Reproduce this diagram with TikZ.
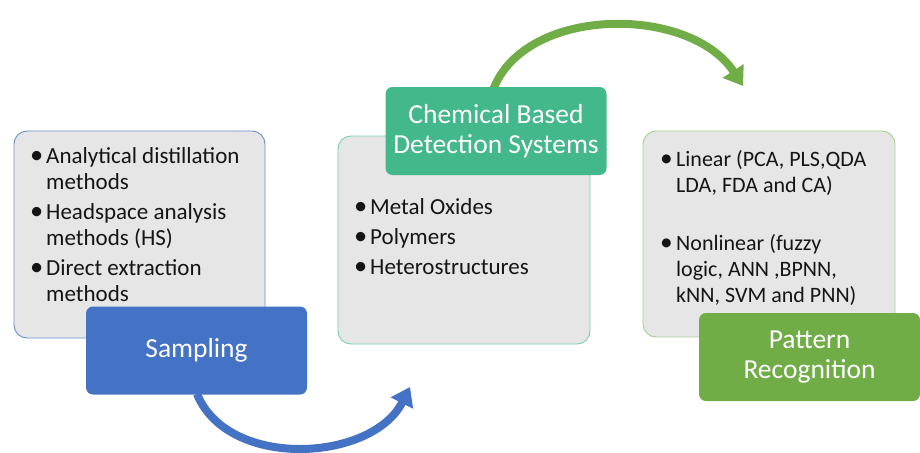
\documentclass[tikz,border=0pt]{standalone}
\usepackage{fontspec}
\usepackage{graphicx}
\setmainfont{Carlito}
\usetikzlibrary{arrows.meta}
\definecolor{cblue}{HTML}{4472C4}
\definecolor{cteal}{HTML}{43B88B}
\definecolor{cgreen}{HTML}{70AD47}
\definecolor{cgray}{HTML}{E6E6E6}
\definecolor{ctext}{HTML}{151515}
\newcommand\bl{\makebox[16pt][l]{\raisebox{-0.5pt}{\scalebox{1.15}{\textbullet}}}}
\newcommand\ind{\hspace{16pt}}
\tikzset{
  graybox/.style={draw, fill=cgray, line width=0.9pt, rounded corners=13pt, minimum width=#1, inner sep=0pt},
  headbox/.style={fill=#1, rounded corners=7pt, minimum width=221pt, minimum height=88pt, text=white, align=center, inner sep=0pt, font=\fontsize{27.5}{30.5}\selectfont},
  listtext/.style={anchor=base west, inner sep=0pt, text=ctext},
  arc/.style={line width=8pt, draw=#1, -{Triangle[length=18pt, width=24pt]}}
}
\begin{document}
\begin{tikzpicture}[x=1pt, y=-1pt]
\useasboundingbox (0,0) rectangle (920,452);
% gray boxes
\node[graybox=251pt, draw=cblue!80, minimum height=207pt] (b1) at (139.5,234.5) {};
\node[graybox=252pt, draw=cteal!70, minimum height=208pt] (b2) at (464,240) {};
\node[graybox=252pt, draw=cgreen!60, minimum height=206pt] (b3) at (769,234) {};
% connector ends
\coordinate (e1) at (410,387);
\coordinate (e2) at (743,86);
\coordinate (s1) at (197,394);
\coordinate (s2) at (493,90);
\draw[arc=cblue] (s1) .. controls (228,470) and (372,462) .. (e1);
\draw[arc=cgreen] (s2) .. controls (525,5) and (690,5) .. (e2);
% header boxes
\node[headbox=cblue] (samp) at (196.5,350.5) {Sampling};
\node[headbox=cteal] (chem) at (496,131) {Chemical Based\\Detection Systems};
\node[headbox=cgreen] (patt) at (809.5,357) {Pattern\\Recognition};
% lists
\node[listtext, font=\fontsize{23}{26}\selectfont] (t1) at (30,163) {\begin{tabular}[t]{@{}l@{}}
\bl Analytical distillation\\
\ind methods\\[4pt]
\bl Headspace analysis\\
\ind methods (HS)\\[4pt]
\bl Direct extraction\\
\ind methods
\end{tabular}};
\node[listtext, font=\fontsize{23}{26}\selectfont] (t2) at (354,214) {\begin{tabular}[t]{@{}l@{}}
\bl Metal Oxides\\[4pt]
\bl Polymers\\[4pt]
\bl Heterostructures
\end{tabular}};
\node[listtext, font=\fontsize{22}{26}\selectfont] (t3) at (660,166) {\begin{tabular}[t]{@{}l@{}}
\bl Linear (PCA, PLS,QDA\\
\ind LDA, FDA and CA)\\[32pt]
\bl Nonlinear (fuzzy\\
\ind logic, ANN ,BPNN,\\
\ind kNN, SVM and PNN)
\end{tabular}};
\end{tikzpicture}
\end{document}
